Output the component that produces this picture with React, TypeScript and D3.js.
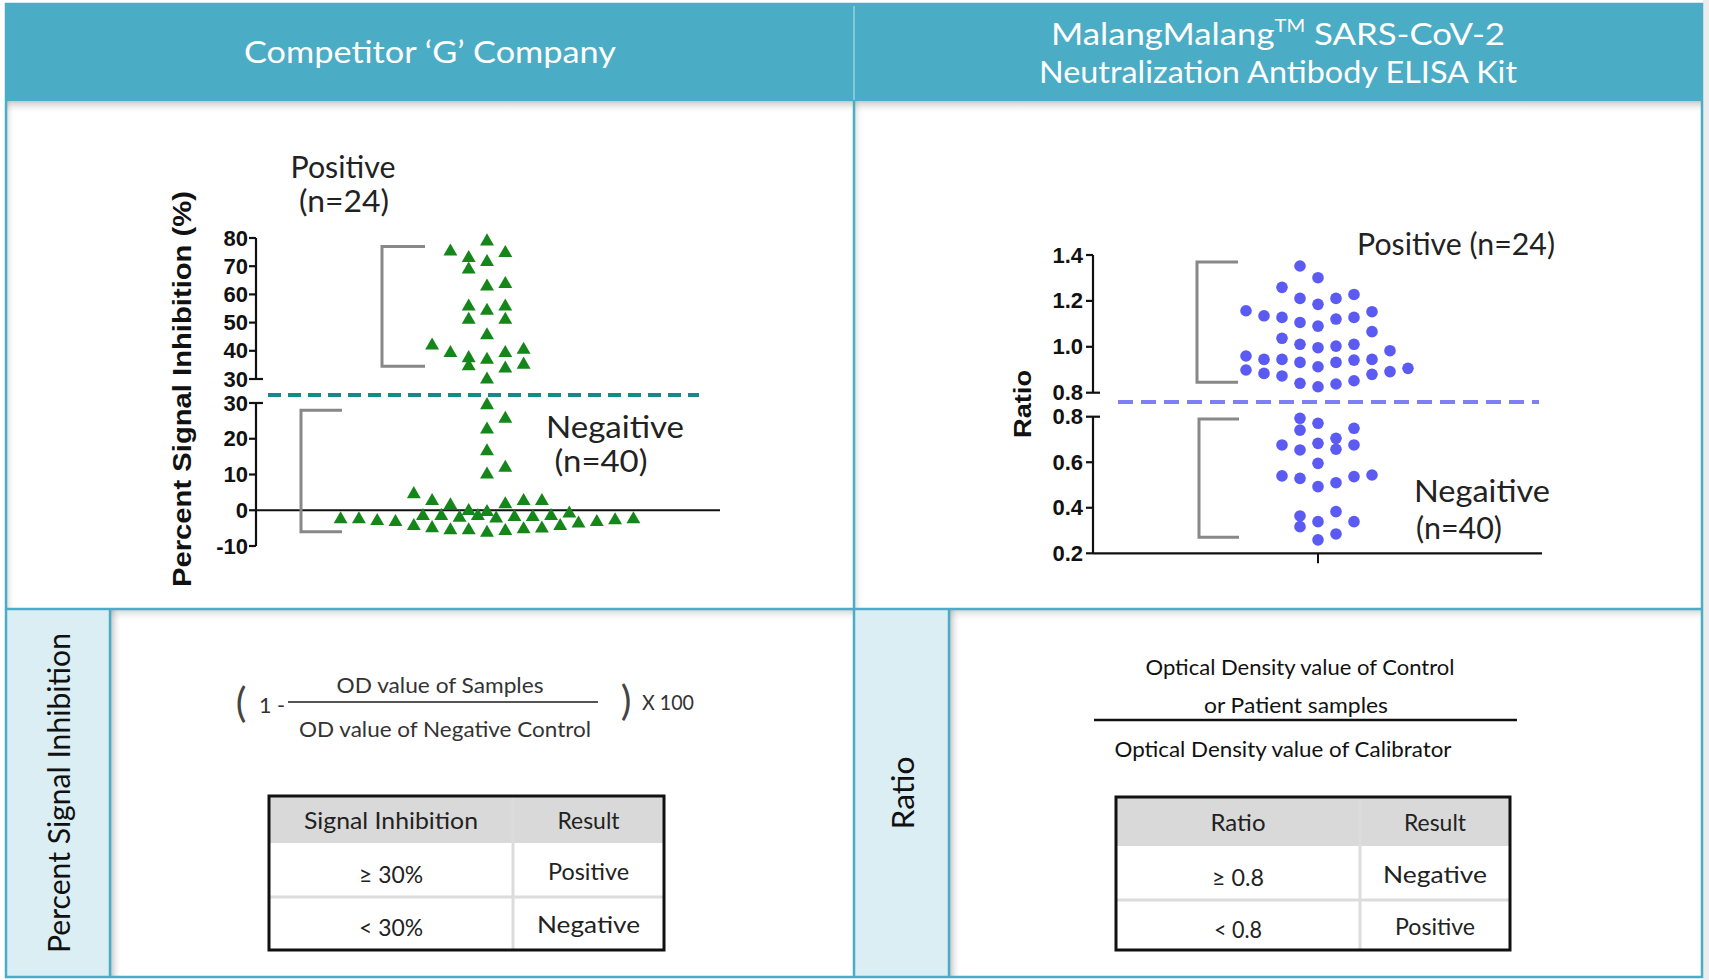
import React from 'react';
import * as d3 from 'd3';

// ---- Competitor 'G' panel : percent signal inhibition (%) ----
// values, lanes = swarm column (0 = centre)
const compPositive = [75.2, 72.9, 68.8, 78.8, 71.5, 74.7, 62.8, 63.7, 55.7, 51.0, 54.2, 55.7, 51.0, 45.5, 41.9, 39.2, 37.4, 34.5, 36.8, 39.2, 40.4, 33.7, 35.1, 29.8];
const compPositiveLane = [-2, -1, -1, 0, 0, 1, 0, 1, -1, -1, 0, 1, 1, 0, -3, -2, -1, -1, 0, 1, 2, 1, 2, 0];
const compNegative = [29.4, 25.6, 22.6, 16.5, 11.9, 10.0, 4.5, 2.6, 1.4, -0.2, -0.5, 1.7, 2.6, 2.6, -2.5, -2.5, -3.0, -3.3, -1.6, -1.6, -2.1, -1.6, -2.3, -1.9, -1.9, -1.6, -0.9, -3.7, -3.3, -2.8, -2.5, -4.4, -5.0, -5.6, -5.6, -6.3, -5.8, -5.3, -5.1, -4.4];
const compNegativeLane = [0, 1, 0, 0, 1, 0, -4, -3, -2, -1, 0, 1, 2, 3, -8, -7, -6, -5, -3.5, -2.5, -1.5, -0.5, 0.5, 1.5, 2.5, 3.5, 4.5, 5, 6, 7, 8, -4, -3, -2, -1, 0, 1, 2, 3, 4];
const compTicksUpper = [30, 40, 50, 60, 70, 80];
const compTicksLower = [-10, 0, 10, 20, 30];

// ---- MalangMalang kit panel : ratio ----
const kitUpper = [1.352, 1.301, 1.259, 1.211, 1.185, 1.211, 1.228, 1.157, 1.135, 1.128, 1.106, 1.09, 1.121, 1.128, 1.153, 1.066, 1.037, 1.011, 0.996, 1.003, 1.011, 0.983, 0.96, 0.945, 0.945, 0.932, 0.913, 0.932, 0.942, 0.945, 0.899, 0.884, 0.873, 0.841, 0.826, 0.838, 0.852, 0.88, 0.892, 0.906];
const kitUpperLane = [-1, 0, -2, -1, 0, 1, 2, -4, -3, -2, -1, 0, 1, 2, 3, 3, -2, -1, 0, 1, 2, 4, -4, -3, -2, -1, 0, 1, 2, 3, -4, -3, -2, -1, 0, 1, 2, 3, 4, 5];
const kitLower = [0.793, 0.741, 0.771, 0.749, 0.705, 0.657, 0.676, 0.654, 0.683, 0.676, 0.595, 0.54, 0.529, 0.493, 0.51, 0.537, 0.544, 0.364, 0.317, 0.339, 0.383, 0.339, 0.259, 0.285];
const kitLowerLane = [-1, -1, 0, 2, 1, 1, -2, -1, 0, 2, 0, -2, -1, 0, 1, 2, 3, -1, -1, 0, 1, 2, 0, 1];
const kitTicksUpper = [0.8, 1.0, 1.2, 1.4];
const kitTicksLower = [0.2, 0.4, 0.6, 0.8];

// tables
const compTableHead = ['Signal Inhibition', 'Result'];
const compTableRows = [['≥ 30%', 'Positive'], ['< 30%', 'Negative']];
const kitTableHead = ['Ratio', 'Result'];
const kitTableRows = [['≥ 0.8', 'Negative'], ['< 0.8', 'Positive']];

const TEAL = '#4bacc6';
const BOX = '#dbeef4';
const GOTHIC = 'Lato, "Open Sans", sans-serif';
const ARIAL = '"Liberation Sans", Arial, sans-serif';

const T = ({ x, y, size, len, children, anchor = 'middle', fill = '#222', weight = 400, family = GOTHIC, rotate = 0 }: any) => (
  <text
    x={rotate ? 0 : x}
    y={rotate ? 0 : y}
    transform={rotate ? `translate(${x},${y}) rotate(${rotate})` : undefined}
    fontSize={size}
    fontFamily={family}
    fontWeight={weight}
    fill={fill}
    textAnchor={anchor}
    dominantBaseline="central"
    textLength={len}
    lengthAdjust={len ? 'spacingAndGlyphs' : undefined}
  >
    {children}
  </text>
);

const Table = ({ left, right, top, bottom, headBottom, rowDiv, colDiv, head, rows, headLen, rowLen }: any) => {
  const c1 = (left + colDiv) / 2;
  const c2 = (colDiv + right) / 2;
  const rowMid = [(headBottom + rowDiv) / 2, (rowDiv + bottom) / 2];
  return (
    <g>
      <rect x={left} y={top} width={right - left} height={headBottom - top} fill="#d9d9d9" />
      <line x1={left} x2={right} y1={rowDiv} y2={rowDiv} stroke="#dcdcdc" strokeWidth={3} />
      <line x1={colDiv} x2={colDiv} y1={top} y2={bottom} stroke="#dcdcdc" strokeWidth={3} />
      <rect x={left} y={top} width={right - left} height={bottom - top} fill="none" stroke="#111" strokeWidth={3} />
      <T x={c1} y={(top + headBottom) / 2} size={24} len={headLen[0]}>{head[0]}</T>
      <T x={c2} y={(top + headBottom) / 2} size={24} len={headLen[1]}>{head[1]}</T>
      {rows.map((r: string[], i: number) => (
        <g key={i}>
          <T x={c1} y={rowMid[i] + 3} size={24} len={rowLen[i][0]}>{r[0]}</T>
          <T x={c2} y={rowMid[i]} size={24} len={rowLen[i][1]}>{r[1]}</T>
        </g>
      ))}
    </g>
  );
};

const App = () => {
  // competitor chart scales (broken y axis)
  const cyU = d3.scaleLinear().domain([30, 80]).range([379, 238]);
  const cyL = d3.scaleLinear().domain([-10, 30]).range([546, 403]);
  const cx = d3.scaleLinear().domain([0, 1]).range([487, 505.3]);
  const cAxisX = 256;
  const triangle = d3.symbol(d3.symbolTriangle, 84)() as string;

  // kit chart scales (broken y axis)
  const kyU = d3.scaleLinear().domain([0.8, 1.4]).range([392.7, 255]);
  const kyL = d3.scaleLinear().domain([0.2, 0.8]).range([553.3, 416.7]);
  const kx = d3.scaleLinear().domain([0, 1]).range([1318, 1336]);
  const kAxisX = 1093;
  const f1 = d3.format('.1f');

  return (
    <svg width={1709} height={980} style={{ position: 'absolute', left: 0, top: 0, background: '#fff' }}>
      <defs>
        <linearGradient id="shDown" x1="0" y1="0" x2="0" y2="1">
          <stop offset="0" stopColor="#9a9a9a" stopOpacity={0.55} />
          <stop offset="1" stopColor="#ffffff" stopOpacity={0} />
        </linearGradient>
        <linearGradient id="shRight" x1="0" y1="0" x2="1" y2="0">
          <stop offset="0" stopColor="#9a9a9a" stopOpacity={0.55} />
          <stop offset="1" stopColor="#ffffff" stopOpacity={0} />
        </linearGradient>
      </defs>

      {/* frame shadows */}
      <rect x={1703} y={0} width={6} height={980} fill="#ececec" />
      <rect x={6} y={101} width={1696} height={13} fill="url(#shDown)" />
      <rect x={7} y={101} width={8} height={508} fill="url(#shRight)" opacity={0.6} />
      <rect x={855} y={101} width={9} height={508} fill="url(#shRight)" opacity={0.5} />
      <rect x={6} y={610} width={1696} height={12} fill="url(#shDown)" opacity={0.7} />
      <rect x={111} y={610} width={11} height={367} fill="url(#shRight)" />
      <rect x={950} y={610} width={11} height={367} fill="url(#shRight)" />

      {/* header */}
      <rect x={6} y={4} width={1696} height={97} fill={TEAL} />
      <line x1={854} x2={854} y1={6} y2={100} stroke="#a9dbe8" strokeWidth={1.2} />
      <T x={430} y={51} size={31} len={372} fill="#fff">Competitor ‘G’ Company</T>
      <text x={1278} y={33} fontSize={31} fontFamily={GOTHIC} fill="#fff" textAnchor="middle" dominantBaseline="central"
        textLength={454} lengthAdjust="spacingAndGlyphs">
        MalangMalang<tspan fontSize={18} dy={-8}>TM</tspan><tspan dy={8}> SARS-CoV-2</tspan>
      </text>
      <T x={1278} y={71} size={31} len={478} fill="#fff">Neutralization Antibody ELISA Kit</T>

      {/* panel grid */}
      <rect x={6} y={610} width={104} height={367} fill={BOX} />
      <rect x={854} y={610} width={95} height={367} fill={BOX} />
      <line x1={110} x2={110} y1={609} y2={977} stroke={TEAL} strokeWidth={2.5} />
      <line x1={949} x2={949} y1={609} y2={977} stroke={TEAL} strokeWidth={2.5} />
      <line x1={854} x2={854} y1={101} y2={977} stroke={TEAL} strokeWidth={2.5} />
      <line x1={6} x2={1702} y1={609} y2={609} stroke={TEAL} strokeWidth={2.5} />
      <rect x={6} y={4} width={1696} height={973} fill="none" stroke={TEAL} strokeWidth={2.5} />

      <T x={58} y={793} size={30} len={320} fill="#111" rotate={-90}>Percent Signal Inhibition</T>
      <T x={902} y={793} size={30} len={73} fill="#111" rotate={-90}>Ratio</T>

      {/* ---------- competitor chart ---------- */}
      <g>
        <line x1={cAxisX} x2={cAxisX} y1={cyU(80)} y2={cyU(30)} stroke="#111" strokeWidth={2.2} />
        <line x1={cAxisX} x2={cAxisX} y1={cyL(30)} y2={cyL(-10)} stroke="#111" strokeWidth={2.2} />
        {compTicksUpper.map((t) => (
          <g key={'u' + t}>
            <line x1={cAxisX - 7} x2={t === 30 ? cAxisX + 7 : cAxisX} y1={cyU(t)} y2={cyU(t)} stroke="#111" strokeWidth={2.2} />
            <T x={cAxisX - 8} y={cyU(t)} size={22} anchor="end" weight={700} family={ARIAL} fill="#111">{t}</T>
          </g>
        ))}
        {compTicksLower.map((t) => (
          <g key={'l' + t}>
            <line x1={cAxisX - 7} x2={t === 30 ? cAxisX + 7 : cAxisX} y1={cyL(t)} y2={cyL(t)} stroke="#111" strokeWidth={2.2} />
            <T x={cAxisX - 8} y={cyL(t)} size={22} anchor="end" weight={700} family={ARIAL} fill="#111">{t}</T>
          </g>
        ))}
        <line x1={cAxisX} x2={720} y1={cyL(0)} y2={cyL(0)} stroke="#111" strokeWidth={2.2} />
        <line x1={268} x2={699} y1={395} y2={395} stroke="#148a8a" strokeWidth={4} strokeDasharray="13,7" />
        <T x={182} y={389} size={25} len={396} weight={700} family={ARIAL} fill="#111" rotate={-90}>Percent Signal Inhibition (%)</T>

        {/* brackets */}
        <path d={`M425,${cyU(77)}H382V${cyU(34.5)}H425`} fill="none" stroke="#888" strokeWidth={3} />
        <path d={`M342,${cyL(28)}H301V${cyL(-6)}H342`} fill="none" stroke="#888" strokeWidth={3} />

        <T x={343} y={166} size={30} len={105}>Positive</T>
        <T x={344} y={200} size={30} len={90}>(n=24)</T>
        <T x={615} y={426} size={30} len={138}>Negaitive</T>
        <T x={601} y={460} size={30} len={93}>(n=40)</T>

        {compPositive.map((v, i) => (
          <path key={'cp' + i} d={triangle} transform={`translate(${cx(compPositiveLane[i])},${cyU(v)})`} fill="#15861a" />
        ))}
        {compNegative.map((v, i) => (
          <path key={'cn' + i} d={triangle} transform={`translate(${cx(compNegativeLane[i])},${cyL(v)})`} fill="#15861a" />
        ))}
      </g>

      {/* ---------- kit chart ---------- */}
      <g>
        <line x1={kAxisX} x2={kAxisX} y1={kyU(1.4)} y2={kyU(0.8)} stroke="#111" strokeWidth={2.2} />
        <line x1={kAxisX} x2={kAxisX} y1={kyL(0.8)} y2={kyL(0.2)} stroke="#111" strokeWidth={2.2} />
        {kitTicksUpper.map((t) => (
          <g key={'ku' + t}>
            <line x1={kAxisX - 7} x2={t === 0.8 ? kAxisX + 7 : kAxisX} y1={kyU(t)} y2={kyU(t)} stroke="#111" strokeWidth={2.2} />
            <T x={kAxisX - 10} y={kyU(t)} size={22} anchor="end" weight={700} family={ARIAL} fill="#111">{f1(t)}</T>
          </g>
        ))}
        {kitTicksLower.map((t) => (
          <g key={'kl' + t}>
            <line x1={kAxisX - 7} x2={t === 0.8 ? kAxisX + 7 : kAxisX} y1={kyL(t)} y2={kyL(t)} stroke="#111" strokeWidth={2.2} />
            <T x={kAxisX - 10} y={kyL(t)} size={22} anchor="end" weight={700} family={ARIAL} fill="#111">{f1(t)}</T>
          </g>
        ))}
        <line x1={kAxisX} x2={1542} y1={kyL(0.2)} y2={kyL(0.2)} stroke="#111" strokeWidth={2.2} />
        <line x1={kx(0)} x2={kx(0)} y1={kyL(0.2)} y2={kyL(0.2) + 10} stroke="#111" strokeWidth={2} />
        <line x1={1118} x2={1539} y1={402} y2={402} stroke="#7f7ff5" strokeWidth={4} strokeDasharray="15,8" />
        <T x={1022} y={404} size={24} len={68} weight={700} family={ARIAL} fill="#111" rotate={-90}>Ratio</T>

        <path d={`M1238,${kyU(1.37)}H1197V${kyU(0.845)}H1238`} fill="none" stroke="#888" strokeWidth={3} />
        <path d={`M1239,${kyL(0.79)}H1199V${kyL(0.27)}H1239`} fill="none" stroke="#888" strokeWidth={3} />

        <T x={1456} y={243} size={30} len={198}>Positive (n=24)</T>
        <T x={1482} y={490} size={30} len={136}>Negaitive</T>
        <T x={1459} y={527} size={30} len={86}>(n=40)</T>

        {kitUpper.map((v, i) => (
          <circle key={'ku' + i} cx={kx(kitUpperLane[i])} cy={kyU(v)} r={5.8} fill="#5b5bf3" />
        ))}
        {kitLower.map((v, i) => (
          <circle key={'kl' + i} cx={kx(kitLowerLane[i])} cy={kyL(v)} r={5.8} fill="#5b5bf3" />
        ))}
      </g>

      {/* ---------- competitor formula + table ---------- */}
      <T x={241} y={702} size={40} fill="#444">(</T>
      <T x={272} y={704} size={21} len={26} fill="#333">1 -</T>
      <line x1={288} x2={598} y1={702} y2={702} stroke="#555" strokeWidth={2.2} />
      <T x={440} y={684} size={21} len={207} fill="#333">OD value of Samples</T>
      <T x={445} y={728} size={21} len={292} fill="#333">OD value of Negative Control</T>
      <T x={626} y={700} size={40} fill="#444">)</T>
      <T x={668} y={701} size={21} len={52} fill="#333">X 100</T>
      <Table left={269} right={664} top={796} bottom={950} headBottom={843} rowDiv={897} colDiv={513}
        head={compTableHead} rows={compTableRows} headLen={[174, 62]} rowLen={[[64, 81], [64, 103]]} />

      {/* ---------- kit formula + table ---------- */}
      <T x={1300} y={666} size={21} len={309} fill="#111">Optical Density value of Control</T>
      <T x={1296} y={704} size={21} len={184} fill="#111">or  Patient samples</T>
      <line x1={1094} x2={1517} y1={720} y2={720} stroke="#111" strokeWidth={2.6} />
      <T x={1283} y={748} size={21} len={337} fill="#111">Optical Density value of Calibrator</T>
      <Table left={1116} right={1510} top={797} bottom={950} headBottom={846} rowDiv={900} colDiv={1360}
        head={kitTableHead} rows={kitTableRows} headLen={[55, 62]} rowLen={[[52, 104], [48, 80]]} />
    </svg>
  );
};

export default App;
